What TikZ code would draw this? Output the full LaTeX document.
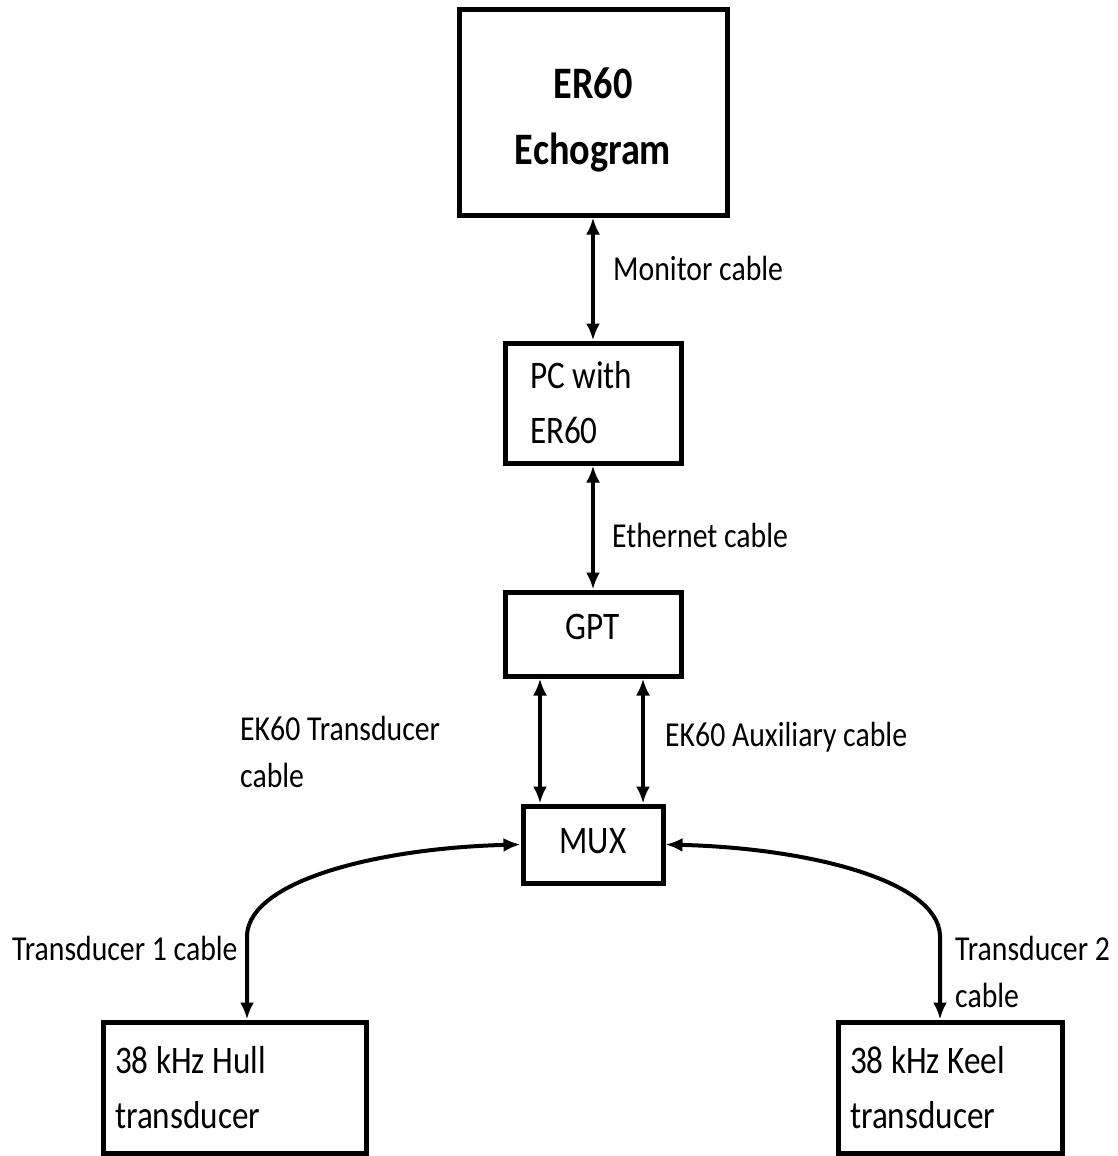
\documentclass[tikz,border=0pt]{standalone}
\usepackage{fontspec}
\setmainfont{Carlito}[FakeStretch=0.85]
\usetikzlibrary{arrows.meta,positioning}
\newcommand{\topfont}{\fontsize{45pt}{66pt}\selectfont\bfseries}
\newcommand{\boxfont}{\fontsize{39pt}{55pt}\selectfont}
\newcommand{\lblfont}{\fontsize{35pt}{47pt}\selectfont}
\tikzstyle{blk}=[draw, line width=5pt, font=\boxfont, inner sep=0pt]
\tikzstyle{lbl}=[anchor=base west, align=flush left, font=\lblfont, inner sep=0pt]
\tikzstyle{cable}=[<->, line width=4pt]

\begin{document}
\begin{tikzpicture}[x=1pt,y=-1pt,>={Latex[length=17pt,width=14pt]}]
    \useasboundingbox (0,0) rectangle (1117,1156);
    \node [blk, font=\topfont, align=center, minimum width=268pt, minimum height=205pt, text height=112pt] (echo) at (593,112.5) {ER60\\Echogram};
    \node [blk, below of=echo, node distance=290.5pt, align=flush left, text width=126pt, inner xsep=25pt, minimum height=120pt] (pc) {PC with\\ER60};
    \node [blk, below of=pc, node distance=231pt, minimum width=176pt, minimum height=84pt, text depth=14pt] (gpt) {GPT};
    \node [blk, below of=gpt, node distance=210.5pt, minimum width=140pt, minimum height=77pt, text depth=8pt] (mux) {MUX};
    \node [blk, align=flush left, text width=239pt, inner xsep=12pt, minimum height=131pt] (hull) at (234.5,1087.5) {38 kHz Hull\\transducer};
    \node [blk, align=flush left, text width=200pt, inner xsep=12pt, minimum height=131pt] (keel) at (950,1087.5) {38 kHz Keel\\transducer};
    % cables
    \coordinate (aux1) at ([xshift=-53pt]gpt.south);
    \coordinate (aux2) at ([xshift=50pt]gpt.south);
    \coordinate (t1) at (247,935);
    \coordinate (t2) at (940,935);
    \draw [cable] (echo) -- (pc);
    \draw [cable] (pc) -- (gpt);
    \draw [cable] (aux1) -- (aux1 |- mux.north);
    \draw [cable] (aux2) -- (aux2 |- mux.north);
    \draw [cable] (mux.west) .. controls (380,848) and (250,880) .. (t1) -- (t1 |- hull.north);
    \draw [cable] (mux.east) .. controls (807,848) and (937,880) .. (t2) -- (t2 |- keel.north);
    % labels
    \node [lbl] (l1) at (613,280) {Monitor cable};
    \node [lbl] (l2) at (612,547) {Ethernet cable};
    \node [lbl] (l3) at (240,787) {EK60 Transducer\\cable};
    \node [lbl] (l4) at (665,746) {EK60 Auxiliary cable};
    \node [lbl] (l5) at (12,960) {Transducer 1 cable};
    \node [lbl] (l6) at (955,1007) {Transducer 2\\cable};
\end{tikzpicture}
\end{document}
